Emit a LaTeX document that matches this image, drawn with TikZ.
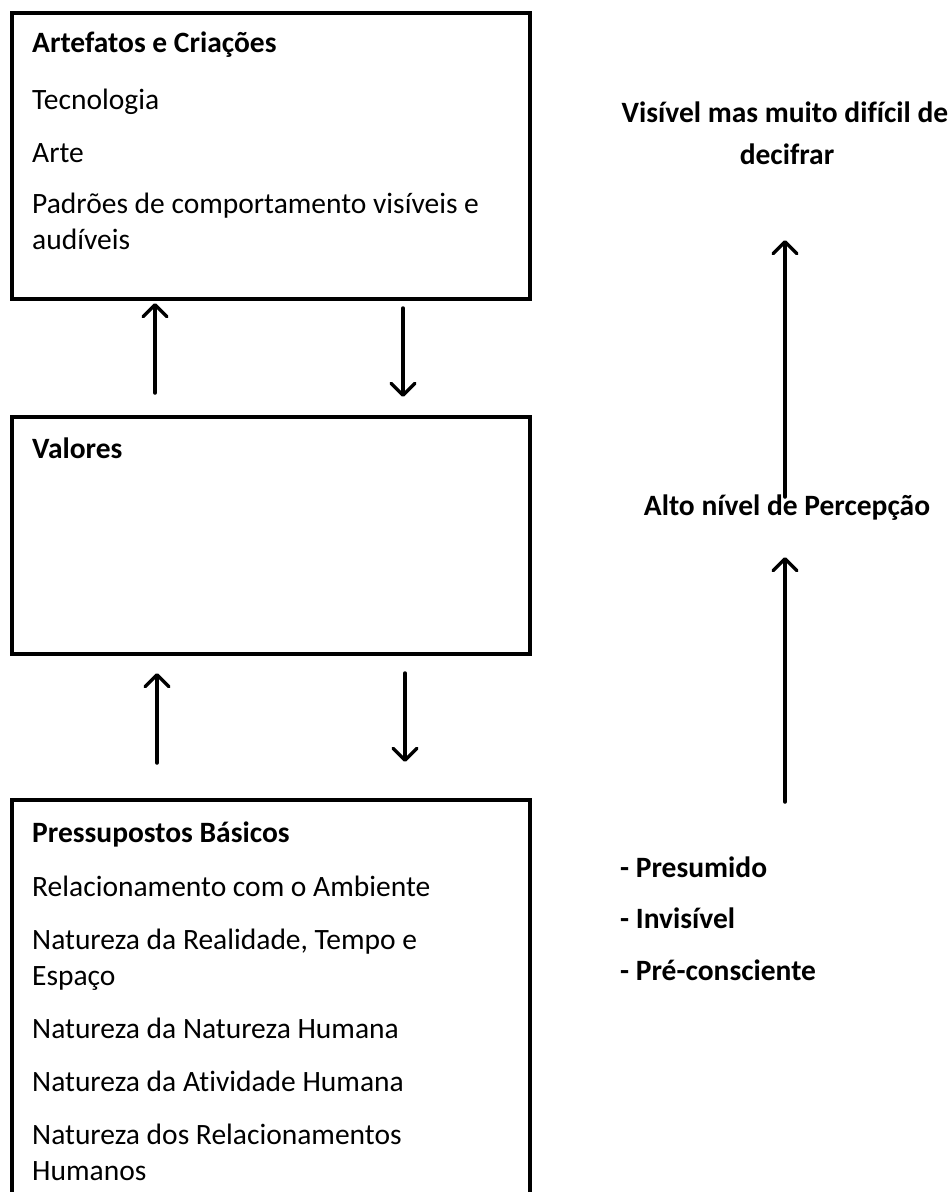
\documentclass[tikz,border=0pt]{standalone}
\usepackage{fontspec}
\setmainfont{Carlito}[Ligatures=NoCommon]
\usetikzlibrary{arrows.meta}

\begin{document}
\begin{tikzpicture}[x=1pt,y=-1pt,
  frame/.style={draw=black,line width=4pt,rectangle,inner sep=0pt,anchor=north west,
                minimum width=518pt},
  txt/.style={anchor=base west,inner sep=0pt,font=\fontsize{29.5}{36}\selectfont},
  hd/.style={txt,font=\fontsize{29.5}{36}\selectfont\bfseries},
  note/.style={anchor=base,inner sep=0pt,font=\fontsize{29.5}{36}\selectfont\bfseries},
  link/.style={line width=3.5pt,line cap=round,
               -{Straight Barb[length=12pt,width=24pt,round]}}]
\useasboundingbox (0,0) rectangle (952,1192);
\clip (0,0) rectangle (952,1192);

% three layer boxes
\node[frame,minimum height=286.5pt] (art) at (10,10.5) {};
\node[frame,minimum height=237pt] (val) at (10,415) {};
\node[frame,minimum height=430pt] (pre) at (10,798) {};

% artefacts
\node[hd]  (artT) at (32,52)  {Artefatos e Criações};
\node[txt] (art1) at (32,109) {Tecnologia};
\node[txt] (art2) at (32,162) {Arte};
\node[txt] (art3) at (32,213) {Padrões de comportamento visíveis e};
\node[txt] (art4) at (32,249) {audíveis};

% values
\node[hd]  (valT) at (32,458) {Valores};

% basic assumptions
\node[hd]  (preT) at (32,842)  {Pressupostos Básicos};
\node[txt] (pre1) at (32,896)  {Relacionamento com o Ambiente};
\node[txt] (pre2) at (32,949)  {Natureza da Realidade, Tempo e};
\node[txt] (pre3) at (32,985)  {Espaço};
\node[txt] (pre4) at (32,1038) {Natureza da Natureza Humana};
\node[txt] (pre5) at (32,1091) {Natureza da Atividade Humana};
\node[txt] (pre6) at (32,1144) {Natureza dos Relacionamentos};
\node[txt] (pre7) at (32,1180) {Humanos};

% arrows between the boxes
\coordinate (u1a) at (155,393); \coordinate (u1b) at (155,303);
\coordinate (d1a) at (403,308); \coordinate (d1b) at (403,397);
\coordinate (u2a) at (157,763); \coordinate (u2b) at (157,673);
\coordinate (d2a) at (405,673); \coordinate (d2b) at (405,762);
\draw[link] (u1a) -- (u1b);
\draw[link] (d1a) -- (d1b);
\draw[link] (u2a) -- (u2b);
\draw[link] (d2a) -- (d2b);

% visibility scale on the right
\node[note] (vis1) at (785,122) {Visível mas muito difícil de};
\node[note] (vis2) at (787,164) {decifrar};
\node[note] (alto) at (787,515) {Alto nível de Percepção};
\node[hd] (lv1) at (620,877) {- Presumido};
\node[hd] (lv2) at (620,928) {- Invisível};
\node[hd] (lv3) at (620,980) {- Pré-consciente};

\coordinate (r1a) at (785,497); \coordinate (r1b) at (785,240);
\coordinate (r2a) at (785,802); \coordinate (r2b) at (785,557);
\draw[link] (r1a) -- (r1b);
\draw[link] (r2a) -- (r2b);
\end{tikzpicture}
\end{document}
